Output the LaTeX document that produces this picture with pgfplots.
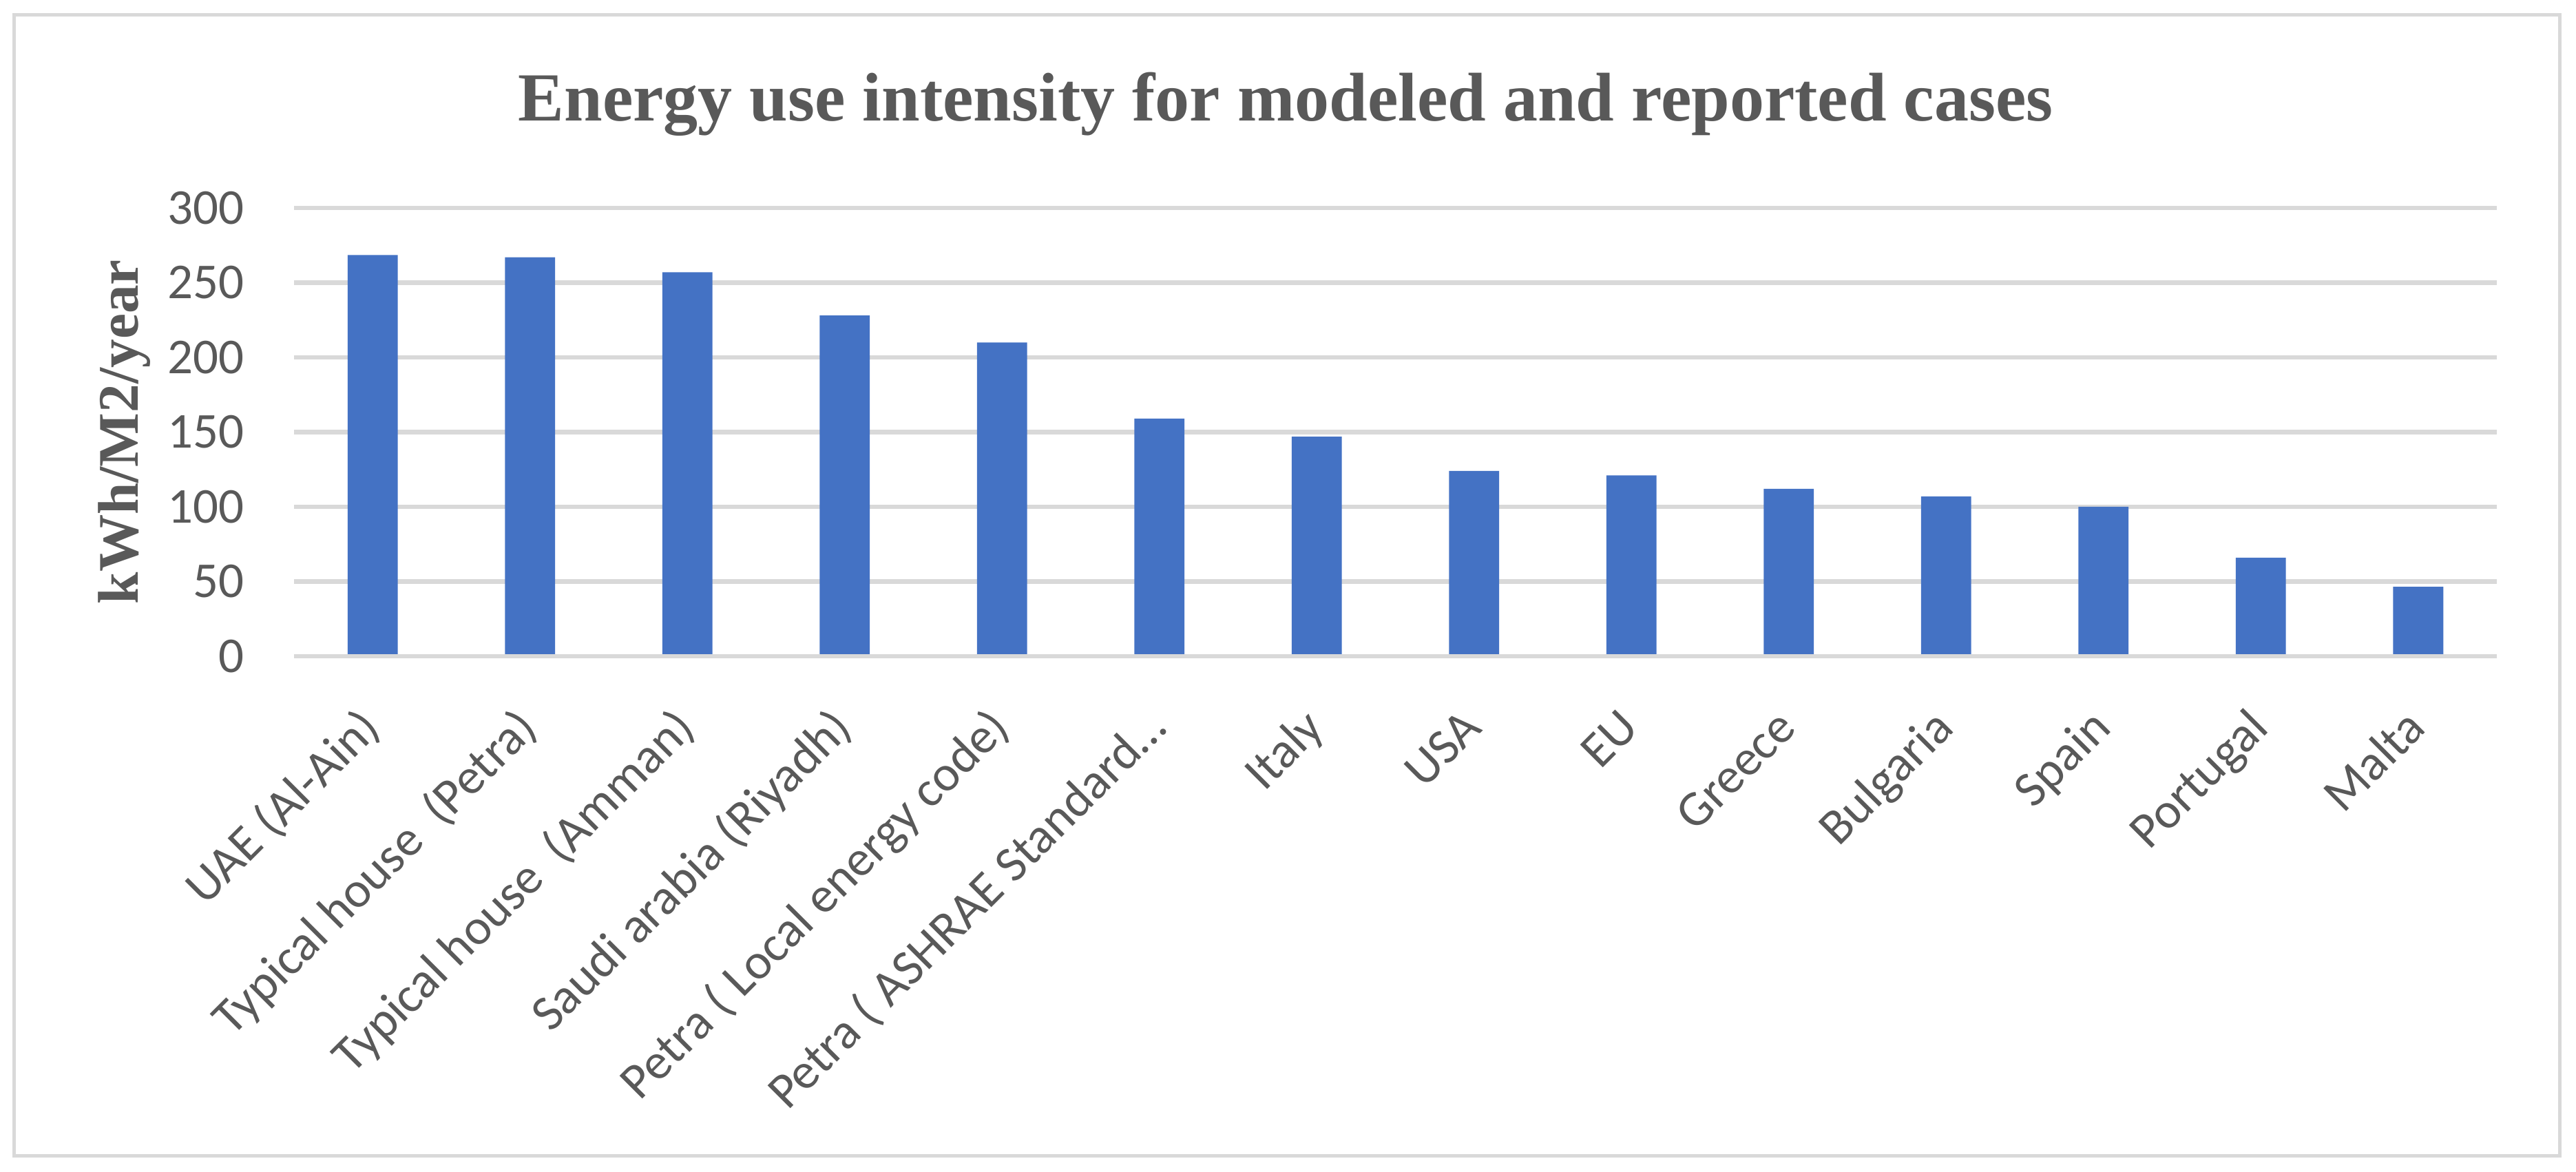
\documentclass[border=0pt]{standalone}
\usepackage{pgfplots}
\pgfplotsset{compat=1.18}
\usepackage{fontspec}
\setmainfont{Carlito}
\newfontfamily\titlefont{Liberation Serif}
\definecolor{barblue}{HTML}{4472C4}
\definecolor{textgray}{HTML}{595959}
\definecolor{gridgray}{HTML}{D9D9D9}
\begin{document}
\begin{tikzpicture}
\useasboundingbox (0,0) rectangle (897.84bp,408.24bp);
\draw[gridgray, line width=1.2bp] (4.8bp,5.28bp) rectangle (892.3bp,402.96bp);
\node[anchor=base, text=textgray, font=\titlefont\bfseries\fontsize{24bp}{28bp}\selectfont] at (448.1bp,366bp) {Energy use intensity for modeled and reported cases};
\node[rotate=90, anchor=base, text=textgray, font=\titlefont\bfseries\fontsize{20bp}{24bp}\selectfont] at (48.2bp,257.7bp) {kWh/M2/year};
\begin{axis}[
  at={(102.48bp,179.52bp)}, anchor=south west,
  scale only axis, width=767.76bp, height=156.24bp,
  xmin=-0.5, xmax=13.5, ymin=0, ymax=300,
  ytick={0,50,100,150,200,250,300},
  xtick=data,
  xticklabels={UAE (Al-Ain),Typical house\ \ (Petra),Typical house\ \ (Amman),Saudi arabia (Riyadh),Petra ( Local energy code),Petra ( ASHRAE Standard…,Italy,USA,EU,Greece,Bulgaria,Spain,Portugal,Malta},
  axis line style={draw=none},
  major tick length=0pt,
  ymajorgrids, grid style={draw=gridgray, line width=1.6bp},
  /pgf/number format/assume math mode=true,
  ticklabel style={text=textgray, font=\fontsize{17.5bp}{21bp}\selectfont},
  yticklabel style={inner sep=0pt, anchor=east, xshift=-17.3bp},
  xticklabel style={inner sep=0pt, anchor=base east, xshift=3.4bp, yshift=-25.7bp, rotate=45},
]
\addplot[ybar, bar width=17.5bp, fill=barblue, draw=none] coordinates {
(0,268.5) (1,267) (2,257) (3,228) (4,210) (5,159) (6,147) (7,124) (8,121) (9,112) (10,107) (11,100) (12,66) (13,46.5)
};
\draw[gridgray, line width=1.6bp] (axis cs:-0.5,0) -- (axis cs:13.5,0);
\end{axis}
\end{tikzpicture}
\end{document}
